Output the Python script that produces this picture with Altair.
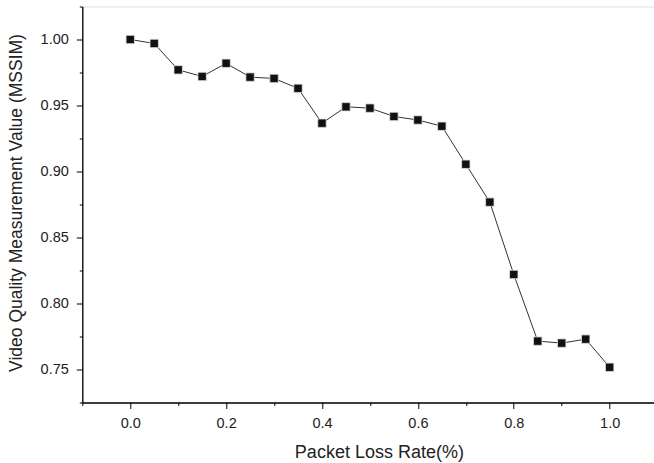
import altair as alt
import pandas as pd

loss_rate = [0.0, 0.05, 0.1, 0.15, 0.2, 0.25, 0.3, 0.35, 0.4, 0.45, 0.5,
             0.55, 0.6, 0.65, 0.7, 0.75, 0.8, 0.85, 0.9, 0.95, 1.0]
mssim = [1.000, 0.997, 0.977, 0.972, 0.982, 0.9715, 0.9705, 0.963, 0.9366,
         0.949, 0.948, 0.9417, 0.939, 0.9343, 0.9055, 0.8768, 0.822, 0.7715,
         0.770, 0.773, 0.7517]

x_major = [0.0, 0.2, 0.4, 0.6, 0.8, 1.0]
x_minor = [-0.1, 0.1, 0.3, 0.5, 0.7, 0.9]
y_major = [0.75, 0.80, 0.85, 0.90, 0.95, 1.00]
y_minor = [0.725, 0.775, 0.825, 0.875, 0.925, 0.975, 1.025]

df = pd.DataFrame({"x": loss_rate, "y": mssim})

FONT = "Liberation Sans"
W, H = 571.7, 396
xscale = alt.Scale(domain=[-0.1, 1.0925], nice=False, zero=False)
yscale = alt.Scale(domain=[0.725, 1.025], nice=False, zero=False)

base = alt.Chart(df)

line = base.mark_line(color="#333333", strokeWidth=1).encode(
    x=alt.X("x:Q", scale=xscale,
            axis=alt.Axis(orient="bottom", values=x_minor, labels=False, title=None,
                          domain=False, grid=False, tickSize=3, tickColor="#000",
                          tickWidth=1)),
    y=alt.Y("y:Q", scale=yscale,
            axis=alt.Axis(orient="left", values=y_minor, labels=False, title=None,
                          domain=False, grid=False, tickSize=3, tickColor="#000",
                          tickWidth=1)),
)

points = base.mark_point(shape="square", filled=True, size=70, color="#111111",
                         stroke="#dddddd", strokeWidth=0.8, opacity=1).encode(
    x=alt.X("x:Q", scale=xscale,
            axis=alt.Axis(orient="bottom", values=x_major, format=".1f",
                          title="Packet Loss Rate(%)", grid=False,
                          domainColor="#000", domainWidth=1.3, tickColor="#000",
                          tickSize=6, tickWidth=1, labelFont=FONT, labelFontSize=14.5,
                          labelColor="#222", labelPadding=8, titleFont=FONT,
                          titleFontSize=18, titleFontWeight="normal",
                          titleColor="#222", titleX=296.6, titleY=54.5,
                          titleAlign="center", titleBaseline="alphabetic")),
    y=alt.Y("y:Q", scale=yscale,
            axis=alt.Axis(orient="left", values=y_major, format=".2f",
                          title="Video Quality Measurement Value (MSSIM)", grid=False,
                          domainColor="#000", domainWidth=1.3, tickColor="#000",
                          tickSize=6, tickWidth=1, labelFont=FONT, labelFontSize=14.5,
                          labelColor="#222", labelPadding=8, titleFont=FONT,
                          titleFontSize=17.5, titleFontWeight="normal",
                          titleColor="#222", titleX=-60.6, titleY=196,
                          titleAlign="center", titleBaseline="alphabetic",
                          titleAngle=270)),
)

chart = alt.layer(line, points).resolve_axis(
    x="independent", y="independent"
).properties(
    width=W, height=H,
    autosize=alt.AutoSizeParams(type="none"),
    padding={"left": 82.3, "top": 6.5, "right": 0, "bottom": 60.5},
).configure_view(stroke=None).configure(background="white")

chart.save("out.html", embed_options={"renderer": "svg", "actions": False})
